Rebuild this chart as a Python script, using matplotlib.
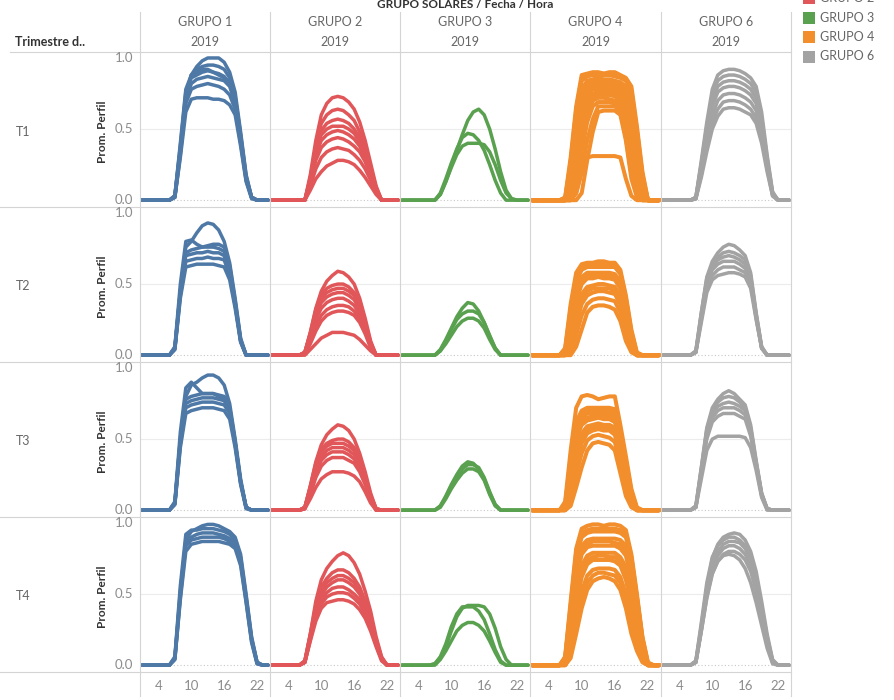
import matplotlib
matplotlib.use('Agg')
import matplotlib.pyplot as plt
from matplotlib.lines import Line2D
from matplotlib.patches import Rectangle

plt.rcParams['font.family'] = ['Lato', 'DejaVu Sans']

W, H = 894, 700

# categories / labels
GROUPS = ['GRUPO 1', 'GRUPO 2', 'GRUPO 3', 'GRUPO 4', 'GRUPO 6']
QUARTERS = ['T1', 'T2', 'T3', 'T4']
YEAR = '2019'
COLORS = ['#4e79a7', '#e15759', '#59a14f', '#f28e2b', '#a3a3a3']
# legend entries visible in the chart (GRUPO 1 lies above the top edge)
LEGEND_ITEMS = ['GRUPO 2', 'GRUPO 3', 'GRUPO 4', 'GRUPO 6']
LEGEND_COLORS = ['#e15759', '#59a14f', '#f28e2b', '#a3a3a3']
X_TICKS = [4, 10, 16, 22]
Y_TICKS = [0.0, 0.5, 1.0]

HOURS = list(range(1, 25))
# each curve below lists hours 6..22; hours 1-5 and 23-24 are zero in the chart

G1_T1 = [
    [0, .03, .35, .72, .88, .94, .98, 1.0, 1.0, 1.0, .97, .9, .76, .48, .18, .02, 0],
    [0, .03, .36, .74, .88, .92, .94, .95, .95, .94, .92, .86, .72, .45, .16, .02, 0],
    [0, .03, .38, .76, .86, .88, .9, .91, .9, .89, .87, .82, .7, .44, .15, .02, 0],
    [0, .02, .34, .7, .82, .85, .86, .87, .86, .85, .84, .8, .68, .42, .15, .02, 0],
    [0, .02, .32, .68, .78, .8, .81, .82, .81, .8, .78, .74, .64, .4, .14, .02, 0],
    [0, .02, .3, .62, .71, .72, .72, .72, .71, .71, .7, .67, .6, .38, .13, .01, 0],
    [0, .03, .4, .78, .88, .9, .92, .92, .9, .88, .86, .83, .73, .46, .17, .02, 0],
]
G2_T1 = [
    [0, 0, .18, .42, .6, .68, .72, .73, .72, .69, .64, .55, .42, .26, .1, 0, 0],
    [0, 0, .16, .38, .54, .6, .63, .64, .63, .6, .56, .48, .37, .23, .09, 0, 0],
    [0, 0, .15, .36, .49, .54, .56, .57, .56, .54, .5, .44, .34, .21, .08, 0, 0],
    [0, 0, .15, .35, .46, .5, .52, .52, .52, .5, .47, .41, .32, .2, .08, 0, 0],
    [0, 0, .14, .32, .42, .46, .48, .49, .48, .46, .43, .38, .3, .19, .07, 0, 0],
    [0, 0, .12, .28, .37, .41, .43, .44, .43, .41, .38, .34, .27, .17, .06, 0, 0],
    [0, 0, .1, .22, .3, .34, .36, .37, .36, .35, .32, .28, .22, .14, .05, 0, 0],
    [0, 0, .07, .15, .2, .24, .26, .28, .28, .27, .25, .21, .16, .1, .04, 0, 0],
]
G3_T1 = [
    [0, 0, .04, .13, .24, .35, .46, .56, .62, .64, .6, .5, .36, .2, .07, .01, 0],
    [0, 0, .05, .15, .26, .36, .44, .47, .46, .42, .35, .25, .14, .05, 0, 0, 0],
    [0, 0, .04, .13, .23, .32, .38, .4, .4, .4, .39, .34, .25, .14, .05, .01, 0],
]
G4_T1 = [
    [0, .02, .3, .66, .88, .89, .9, .9, .89, .9, .9, .88, .86, .8, .52, .2, 0],
    [0, .01, .27, .63, .86, .88, .89, .89, .89, .88, .88, .87, .85, .77, .49, .18, 0],
    [0, .01, .25, .6, .84, .87, .88, .88, .88, .88, .87, .86, .84, .74, .46, .16, 0],
    [0, 0, .2, .52, .78, .84, .85, .86, .85, .85, .84, .83, .8, .66, .4, .12, 0],
    [0, 0, .17, .48, .74, .82, .84, .84, .84, .83, .83, .82, .77, .61, .36, .1, 0],
    [0, 0, .14, .44, .7, .8, .82, .82, .82, .82, .81, .8, .74, .56, .32, .08, 0],
    [0, 0, .11, .39, .65, .77, .8, .8, .8, .8, .79, .78, .7, .51, .28, .06, 0],
    [0, 0, .08, .34, .6, .74, .78, .78, .78, .78, .77, .75, .66, .46, .24, .05, 0],
    [0, 0, .06, .28, .54, .7, .75, .76, .76, .76, .75, .72, .61, .4, .19, .03, 0],
    [0, 0, .04, .22, .48, .66, .73, .74, .74, .74, .73, .7, .56, .34, .14, .02, 0],
    [0, 0, .02, .16, .41, .6, .7, .72, .72, .71, .7, .68, .51, .28, .1, .01, 0],
    [0, 0, 0, .1, .34, .55, .66, .69, .69, .69, .68, .65, .46, .22, .06, 0, 0],
    [0, 0, 0, .05, .2, .42, .57, .66, .66, .66, .66, .63, .44, .18, .04, 0, 0],
    [0, 0, 0, 0, .05, .28, .48, .62, .63, .63, .63, .6, .42, .15, .02, 0, 0],
    [0, 0, 0, .05, .2, .3, .31, .31, .31, .31, .31, .3, .15, .03, 0, 0, 0],
]
G6_T1 = [
    [0, .02, .28, .55, .78, .88, .91, .92, .92, .91, .89, .86, .8, .62, .32, .06, 0],
    [0, .02, .26, .52, .74, .84, .87, .88, .88, .87, .85, .82, .76, .58, .3, .05, 0],
    [0, .02, .25, .5, .7, .8, .83, .84, .84, .83, .81, .78, .72, .55, .28, .05, 0],
    [0, .01, .23, .47, .66, .76, .79, .8, .8, .79, .77, .74, .68, .52, .26, .04, 0],
    [0, .01, .2, .42, .6, .7, .74, .75, .75, .74, .72, .69, .63, .48, .24, .04, 0],
    [0, .01, .18, .38, .55, .64, .69, .7, .7, .69, .67, .64, .58, .44, .22, .03, 0],
    [0, .01, .16, .34, .5, .59, .64, .65, .65, .64, .62, .6, .54, .4, .2, .03, 0],
]

G1_T2 = [
    [0, .05, .45, .76, .8, .86, .91, .93, .92, .88, .8, .65, .4, .12, 0, 0, 0],
    [0, .06, .5, .8, .81, .78, .76, .77, .78, .78, .76, .63, .38, .11, 0, 0, 0],
    [0, .05, .45, .72, .74, .75, .76, .76, .76, .75, .73, .6, .37, .1, 0, 0, 0],
    [0, .05, .44, .7, .71, .72, .72, .73, .72, .72, .7, .58, .36, .1, 0, 0, 0],
    [0, .04, .42, .66, .67, .68, .68, .69, .68, .68, .67, .56, .35, .1, 0, 0, 0],
    [0, .04, .4, .62, .63, .64, .64, .64, .64, .63, .62, .53, .33, .09, 0, 0, 0],
]
G2_T2 = [
    [0, .02, .16, .33, .45, .52, .56, .59, .58, .55, .5, .4, .26, .1, 0, 0, 0],
    [0, .02, .16, .32, .42, .47, .49, .5, .5, .48, .44, .36, .23, .09, 0, 0, 0],
    [0, .02, .15, .3, .4, .44, .46, .47, .47, .45, .42, .34, .22, .08, 0, 0, 0],
    [0, .02, .14, .28, .37, .41, .43, .44, .44, .42, .39, .32, .2, .08, 0, 0, 0],
    [0, .01, .12, .25, .33, .37, .39, .4, .4, .38, .35, .29, .19, .07, 0, 0, 0],
    [0, .01, .1, .21, .28, .32, .34, .35, .35, .34, .31, .26, .17, .06, 0, 0, 0],
    [0, .01, .08, .17, .24, .28, .3, .31, .31, .3, .28, .23, .15, .05, 0, 0, 0],
    [0, 0, .04, .08, .12, .14, .16, .16, .16, .15, .14, .11, .07, .03, 0, 0, 0],
]
G3_T2 = [
    [0, 0, .04, .11, .19, .27, .33, .37, .36, .31, .23, .13, .05, 0, 0, 0, 0],
    [0, 0, .03, .1, .18, .25, .29, .31, .31, .29, .23, .14, .05, 0, 0, 0, 0],
    [0, 0, .03, .08, .14, .2, .24, .26, .26, .24, .19, .11, .04, 0, 0, 0, 0],
]
G4_T2 = [
    [0, .05, .36, .58, .64, .65, .65, .66, .66, .65, .65, .6, .42, .18, .02, 0, 0],
    [0, .04, .33, .55, .62, .63, .64, .64, .64, .63, .63, .58, .4, .16, .01, 0, 0],
    [0, .03, .3, .52, .6, .62, .62, .62, .62, .62, .62, .57, .38, .15, .01, 0, 0],
    [0, .02, .24, .46, .55, .58, .58, .58, .58, .58, .57, .52, .34, .12, 0, 0, 0],
    [0, .01, .21, .42, .52, .56, .56, .57, .56, .56, .55, .5, .32, .11, 0, 0, 0],
    [0, .01, .18, .38, .5, .54, .54, .55, .54, .54, .53, .47, .3, .1, 0, 0, 0],
    [0, 0, .12, .3, .43, .48, .49, .5, .5, .49, .48, .42, .25, .07, 0, 0, 0],
    [0, 0, .09, .26, .4, .45, .47, .47, .47, .47, .45, .39, .22, .06, 0, 0, 0],
    [0, 0, .06, .22, .36, .42, .44, .45, .45, .44, .43, .36, .2, .05, 0, 0, 0],
    [0, 0, .02, .14, .28, .36, .39, .4, .4, .39, .38, .3, .14, .03, 0, 0, 0],
    [0, 0, 0, .06, .18, .3, .34, .35, .35, .34, .32, .24, .1, .02, 0, 0, 0],
]
G6_T2 = [
    [0, .03, .3, .55, .66, .72, .76, .78, .77, .74, .7, .58, .3, .06, 0, 0, 0],
    [0, .03, .3, .54, .64, .69, .72, .73, .72, .7, .67, .56, .29, .06, 0, 0, 0],
    [0, .02, .28, .52, .62, .67, .69, .7, .69, .67, .64, .54, .28, .05, 0, 0, 0],
    [0, .02, .27, .5, .6, .64, .66, .66, .66, .64, .61, .52, .27, .05, 0, 0, 0],
    [0, .02, .25, .47, .56, .6, .62, .62, .62, .6, .58, .5, .26, .05, 0, 0, 0],
    [0, .02, .23, .44, .53, .56, .57, .58, .58, .57, .55, .47, .25, .05, 0, 0, 0],
]

G1_T3 = [
    [0, .05, .5, .8, .88, .9, .93, .95, .95, .93, .88, .75, .5, .22, .02, 0, 0],
    [0, .06, .55, .86, .9, .86, .82, .82, .82, .8, .78, .72, .48, .2, .02, 0, 0],
    [0, .05, .5, .78, .8, .81, .82, .82, .82, .81, .8, .72, .48, .2, .02, 0, 0],
    [0, .05, .48, .75, .77, .78, .79, .79, .79, .78, .77, .7, .47, .2, .02, 0, 0],
    [0, .04, .46, .72, .74, .75, .76, .76, .76, .75, .74, .68, .46, .19, .02, 0, 0],
    [0, .04, .44, .68, .7, .71, .72, .72, .72, .71, .7, .64, .44, .18, .01, 0, 0],
]
G2_T3 = [
    [0, .02, .17, .34, .46, .53, .57, .6, .59, .56, .5, .4, .27, .12, .01, 0, 0],
    [0, .02, .17, .33, .43, .47, .49, .5, .5, .48, .44, .36, .24, .1, .01, 0, 0],
    [0, .02, .16, .31, .41, .45, .47, .47, .47, .45, .42, .34, .23, .1, .01, 0, 0],
    [0, .02, .15, .29, .38, .42, .44, .44, .44, .42, .39, .32, .22, .09, .01, 0, 0],
    [0, .01, .13, .26, .35, .39, .41, .41, .41, .39, .36, .3, .2, .08, 0, 0, 0],
    [0, .01, .11, .23, .31, .35, .37, .37, .37, .35, .33, .27, .18, .07, 0, 0, 0],
    [0, .01, .08, .16, .22, .25, .27, .27, .27, .26, .24, .2, .13, .05, 0, 0, 0],
]
G3_T3 = [
    [0, 0, .03, .1, .18, .25, .31, .34, .33, .29, .22, .12, .04, 0, 0, 0, 0],
    [0, 0, .03, .09, .17, .24, .29, .32, .32, .3, .23, .13, .04, 0, 0, 0, 0],
    [0, 0, .02, .08, .15, .21, .26, .29, .29, .27, .21, .11, .03, 0, 0, 0, 0],
]
G4_T3 = [
    [0, .06, .42, .72, .8, .81, .8, .78, .79, .8, .8, .6, .38, .15, .02, 0, 0],
    [0, .04, .36, .62, .7, .72, .72, .72, .72, .72, .71, .56, .35, .13, .01, 0, 0],
    [0, .03, .33, .59, .67, .7, .7, .71, .7, .7, .69, .54, .33, .12, .01, 0, 0],
    [0, .03, .3, .56, .65, .68, .68, .69, .68, .68, .67, .52, .32, .11, .01, 0, 0],
    [0, .02, .27, .53, .62, .65, .66, .67, .66, .66, .64, .5, .3, .1, 0, 0, 0],
    [0, .02, .24, .5, .6, .63, .64, .65, .64, .64, .62, .48, .28, .09, 0, 0, 0],
    [0, .01, .18, .42, .54, .59, .6, .61, .6, .6, .58, .44, .24, .07, 0, 0, 0],
    [0, 0, .15, .38, .5, .56, .58, .59, .58, .58, .55, .41, .22, .06, 0, 0, 0],
    [0, 0, .12, .34, .47, .54, .56, .57, .56, .56, .53, .38, .2, .05, 0, 0, 0],
    [0, 0, .07, .25, .4, .49, .52, .53, .52, .51, .48, .32, .15, .03, 0, 0, 0],
    [0, 0, .03, .16, .3, .42, .47, .48, .47, .46, .42, .26, .1, .02, 0, 0, 0],
]
G6_T3 = [
    [0, .03, .3, .58, .72, .78, .82, .84, .82, .78, .74, .6, .35, .12, .01, 0, 0],
    [0, .03, .3, .57, .7, .76, .79, .8, .79, .76, .72, .58, .34, .12, .01, 0, 0],
    [0, .02, .28, .55, .68, .73, .75, .76, .75, .73, .7, .56, .33, .11, .01, 0, 0],
    [0, .02, .27, .52, .65, .7, .72, .72, .72, .7, .67, .54, .32, .11, .01, 0, 0],
    [0, .02, .26, .5, .62, .66, .68, .68, .68, .66, .64, .52, .31, .1, .01, 0, 0],
    [0, .02, .22, .42, .5, .52, .52, .52, .52, .52, .51, .44, .28, .09, 0, 0, 0],
]

G1_T4 = [
    [0, .05, .52, .88, .94, .96, .98, .99, .99, .98, .96, .94, .9, .78, .5, .2, .02],
    [0, .06, .56, .92, .95, .95, .96, .96, .96, .95, .94, .92, .88, .76, .48, .19, .02],
    [0, .05, .5, .86, .9, .92, .93, .93, .93, .92, .91, .89, .86, .74, .47, .18, .02],
    [0, .04, .48, .84, .88, .89, .9, .9, .9, .9, .89, .87, .84, .72, .45, .17, .01],
    [0, .04, .46, .8, .85, .86, .87, .87, .87, .87, .86, .85, .82, .7, .44, .16, .01],
]
G2_T4 = [
    [0, .03, .22, .45, .6, .68, .73, .77, .79, .77, .72, .64, .52, .38, .2, .06, 0],
    [0, .03, .22, .42, .55, .61, .65, .67, .67, .65, .61, .55, .45, .33, .18, .05, 0],
    [0, .03, .21, .4, .52, .58, .61, .63, .63, .61, .58, .52, .43, .31, .17, .05, 0],
    [0, .02, .2, .38, .49, .55, .58, .6, .6, .58, .55, .5, .41, .3, .16, .04, 0],
    [0, .02, .19, .36, .46, .51, .54, .55, .55, .53, .5, .46, .38, .28, .15, .04, 0],
    [0, .02, .18, .34, .43, .48, .5, .51, .51, .5, .47, .43, .36, .26, .14, .04, 0],
    [0, .02, .17, .31, .4, .44, .45, .46, .46, .45, .43, .39, .33, .24, .13, .03, 0],
]
G3_T4 = [
    [0, .01, .05, .13, .24, .34, .4, .42, .42, .42, .41, .36, .26, .13, .04, 0, 0],
    [0, .01, .06, .15, .27, .36, .41, .41, .41, .38, .32, .22, .11, .03, 0, 0, 0],
    [0, 0, .04, .1, .17, .24, .28, .3, .3, .28, .24, .17, .09, .02, 0, 0, 0],
]
G4_T4 = [
    [0, .06, .45, .82, .96, .98, .99, .99, .98, .99, .99, .98, .95, .78, .5, .2, .02],
    [0, .05, .42, .79, .93, .95, .96, .96, .96, .96, .96, .95, .92, .76, .48, .19, .01],
    [0, .05, .4, .76, .9, .93, .94, .94, .94, .94, .94, .93, .9, .74, .47, .18, .01],
    [0, .04, .34, .68, .84, .88, .89, .89, .89, .89, .89, .88, .84, .68, .42, .15, .01],
    [0, .03, .31, .64, .81, .85, .87, .87, .87, .87, .86, .85, .8, .64, .39, .13, 0],
    [0, .03, .28, .6, .78, .83, .84, .84, .84, .84, .84, .82, .77, .6, .36, .12, 0],
    [0, .02, .22, .52, .7, .77, .79, .79, .79, .79, .79, .76, .69, .52, .3, .09, 0],
    [0, .01, .19, .47, .66, .74, .76, .77, .77, .76, .76, .73, .65, .47, .26, .07, 0],
    [0, .01, .16, .42, .62, .71, .74, .74, .74, .74, .73, .7, .6, .42, .23, .06, 0],
    [0, 0, .1, .32, .52, .63, .67, .68, .68, .68, .67, .62, .5, .32, .16, .04, 0],
    [0, 0, .07, .27, .46, .58, .63, .65, .65, .64, .63, .58, .45, .27, .13, .03, 0],
    [0, 0, .05, .22, .4, .53, .59, .61, .62, .61, .59, .53, .4, .22, .1, .02, 0],
]
G6_T4 = [
    [0, .03, .28, .55, .75, .85, .9, .92, .93, .92, .88, .8, .66, .45, .22, .04, 0],
    [0, .03, .3, .58, .76, .84, .88, .9, .9, .88, .84, .76, .62, .42, .2, .03, 0],
    [0, .02, .26, .52, .7, .8, .85, .87, .87, .86, .82, .74, .6, .4, .19, .03, 0],
    [0, .02, .25, .5, .68, .77, .82, .84, .84, .82, .78, .7, .56, .37, .17, .02, 0],
    [0, .02, .24, .47, .64, .73, .78, .8, .8, .78, .74, .66, .52, .34, .15, .02, 0],
    [0, .02, .24, .48, .65, .73, .77, .78, .77, .74, .68, .58, .44, .28, .12, .01, 0],
]

PANELS = [
    [G1_T1, G2_T1, G3_T1, G4_T1, G6_T1],
    [G1_T2, G2_T2, G3_T2, G4_T2, G6_T2],
    [G1_T3, G2_T3, G3_T3, G4_T3, G6_T3],
    [G1_T4, G2_T4, G3_T4, G4_T4, G6_T4],
]


def full_day(vals):
    return [0.0] * 5 + list(vals) + [0.0] * 2


def fx(px):
    return px / W


def fy(py):
    return 1 - py / H


COL_X = [140, 270, 400, 530, 661, 791]
ROW_Y = [52, 207, 362, 517, 672]
GRID = '#d4d4d4'
TXT = '#666666'

fig = plt.figure(figsize=(W / 100, H / 100), dpi=100)


def hline(y, x0, x1, color=GRID, lw=0.8):
    fig.add_artist(Line2D([fx(x0), fx(x1)], [fy(y), fy(y)], color=color, lw=lw))


def vline(x, y0, y1, color=GRID, lw=0.8):
    fig.add_artist(Line2D([fx(x), fx(x)], [fy(y0), fy(y1)], color=color, lw=lw))


for r, q in enumerate(QUARTERS):
    top, bot = ROW_Y[r], ROW_Y[r + 1]
    for c, g in enumerate(GROUPS):
        left, right = COL_X[c], COL_X[c + 1]
        ax = fig.add_axes([fx(left), fy(bot), (right - left) / W, (bot - top) / H])
        ax.set_xlim(0.64, 24.36)
        ax.set_ylim(-0.048, 1.042)
        for s in ax.spines.values():
            s.set_visible(False)
        ax.set_xticks([])
        ax.set_yticks([])
        ax.axhline(0.5, color='#ececec', lw=0.8, zorder=0)
        ax.axhline(0.0, color='#c8c8c8', lw=0.8, ls=(0, (1, 2)), zorder=0)
        lw = 2.9 if c == 3 else 2.5
        for curve in PANELS[r][c]:
            ax.plot(HOURS, full_day(curve), color=COLORS[c], lw=lw,
                    solid_joinstyle='round', solid_capstyle='round', zorder=2)
        ax.patch.set_alpha(0)

    # y tick labels and axis title
    for v in Y_TICKS:
        ypx = bot - 7 - v * 142
        fig.text(fx(133), fy(ypx), f'{v:.1f}', ha='right', va='center',
                 fontsize=9.5, color='#8c8c8c')
    fig.text(fx(103), fy((top + bot) / 2 + 2), 'Prom. Perfil', rotation=90,
             ha='center', va='center', fontsize=8.5, color='#333333', fontweight='bold')
    fig.text(fx(16), fy((top + bot) / 2 + 2), q, ha='left', va='center',
             fontsize=9, color=TXT)

# separators
for y in ROW_Y:
    hline(y, 0 if y != ROW_Y[0] else 10, 791)
for x in COL_X:
    vline(x, 12, 696)

# x tick labels
for c in range(5):
    left = COL_X[c]
    for t in X_TICKS:
        xpx = left + 2 + (t - 1) * 5.48
        fig.text(fx(xpx), fy(686), str(t), ha='center', va='center',
                 fontsize=9.5, color='#8c8c8c')

# column headers
for c, g in enumerate(GROUPS):
    xc = (COL_X[c] + COL_X[c + 1]) / 2
    fig.text(fx(xc), fy(22), g, ha='center', va='center', fontsize=9, color=TXT)
    fig.text(fx(xc), fy(42), YEAR, ha='center', va='center', fontsize=9, color=TXT)

fig.text(fx(15), fy(42), 'Trimestre d..', ha='left', va='center', fontsize=9,
         color='#333333', fontweight='bold')
fig.text(fx(465), fy(4), 'GRUPO SOLARES / Fecha / Hora', ha='center', va='center',
         fontsize=8.5, color='#333333', fontweight='bold')

# legend (its first rows are cut by the figure's top edge)
for i, name in enumerate(LEGEND_ITEMS):
    ypx = -2 + i * 19.5
    fig.add_artist(Rectangle((fx(803), fy(ypx + 6)), 12 / W, 12 / H,
                             transform=fig.transFigure, color=LEGEND_COLORS[i], lw=0))
    fig.text(fx(820), fy(ypx), name, ha='left', va='center', fontsize=9, color=TXT)

fig.savefig('out.png', dpi=100)
